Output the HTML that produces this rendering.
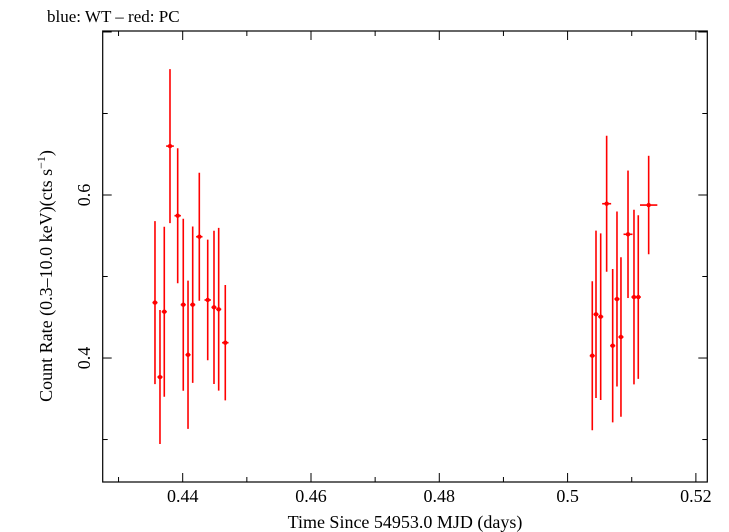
<!DOCTYPE html>
<html><head><meta charset="utf-8"><style>
html,body{margin:0;padding:0;background:#fff;}
svg{display:block;font-family:"Liberation Serif",serif;}
</style></head><body>
<svg id="chart" width="729" height="532" viewBox="0 0 729 532" xmlns="http://www.w3.org/2000/svg">
<text x="47" y="22" font-size="17" fill="#000">blue: WT – red: PC</text>
<rect x="102.7" y="31" width="604.6" height="451" fill="none" stroke="#000" stroke-width="1.2"/>
<g id="ticks"></g>
<g id="marks"></g>
<text x="405" y="528" font-size="18" text-anchor="middle">Time Since 54953.0 MJD (days)</text>
<text transform="translate(52,276) rotate(-90)" font-size="18" text-anchor="middle">Count Rate (0.3–10.0 keV)(cts s<tspan font-size="12" dy="-7">−1</tspan><tspan dy="7">)</tspan></text>
</svg>
<script>
const times = [0.43568,0.43646,0.43713,0.43802,0.43922,0.44009,0.44083,0.44156,0.44259,0.44390,0.44488,0.44561,0.44664,
  0.50385,0.50443,0.50516,0.50609,0.50703,0.50770,0.50832,0.50942,0.51035,0.51102,0.51264];
const timeErrs = [0.0004,0.0004,0.0004,0.0006,0.0005,0.0004,0.0004,0.0004,0.0005,0.0005,0.0004,0.0004,0.0005,
  0.0004,0.0004,0.0004,0.0007,0.0004,0.0004,0.0004,0.0007,0.0004,0.0004,0.00135];
const rates = [0.468,0.3767,0.4568,0.660,0.5746,0.4654,0.404,0.4654,0.5488,0.4712,0.4622,0.4598,0.4188,
  0.4028,0.4536,0.4507,0.5893,0.4151,0.4724,0.4258,0.5518,0.4748,0.4748,0.5877];
const rateErrs = [0.100,0.0822,0.1043,0.0945,0.0828,0.1055,0.091,0.0959,0.0785,0.074,0.094,0.0998,0.0708,
  0.0914,0.1027,0.1022,0.0834,0.0941,0.1074,0.0979,0.0782,0.1071,0.1004,0.0604];
const xTickLabels = ["0.44","0.46","0.48","0.5","0.52"];
const xTickValues = [0.44,0.46,0.48,0.50,0.52];
const yTickLabels = ["0.4","0.6"];
const yTickValues = [0.4,0.6];

const NS="http://www.w3.org/2000/svg";
const L=102.7,R=707.3,T=31,B=482;
const X0=0.42753,X1=0.52178,Y0=0.2479,Y1=0.8012;
function sx(t){return L+(t-X0)/(X1-X0)*(R-L);}
function sy(v){return B-(v-Y0)/(Y1-Y0)*(B-T);}
function mk(tag,attrs,parent){const e=document.createElementNS(NS,tag);for(const k in attrs)e.setAttribute(k,attrs[k]);parent.appendChild(e);return e;}
const tg=document.getElementById('ticks');
for(let i=43;i<=52;i++){
  const v=i/100, x=sx(v), major=(i%2===0), len=major?9:5;
  const a=mk('line',{x1:x,y1:B,x2:x,y2:B-len,stroke:'#000','stroke-width':1},tg);
  
  
  const b=mk('line',{x1:x,y1:T,x2:x,y2:T+len,stroke:'#000','stroke-width':1},tg);
  
  
}
xTickValues.forEach((v,i)=>{
  const t=mk('text',{x:sx(v),y:502,'font-size':18,'text-anchor':'middle'},tg);
  t.textContent=xTickLabels[i];
  
  
});
for(let i=3;i<=8;i++){
  const v=i/10, y=sy(v); if(y<T||y>B) continue;
  const major=(i%2===0), len=major?9:5;
  const a=mk('line',{x1:L,y1:y,x2:L+len,y2:y,stroke:'#000','stroke-width':1},tg);
  
  
  const b=mk('line',{x1:R,y1:y,x2:R-len,y2:y,stroke:'#000','stroke-width':1},tg);
  
  
}
yTickValues.forEach((v,i)=>{
  const y=sy(v);
  const t=mk('text',{transform:`translate(90,${y}) rotate(-90)`,'font-size':18,'text-anchor':'middle'},tg);
  t.textContent=yTickLabels[i];
  
  
});
const mg=document.getElementById('marks');
times.forEach((t,i)=>{
  const g=mk('g',{},mg);
  
  
  const x=sx(t), y=sy(rates[i]);
  mk('line',{x1:x,y1:sy(rates[i]+rateErrs[i]),x2:x,y2:sy(rates[i]-rateErrs[i]),stroke:'#f00','stroke-width':1.6},g);
  mk('line',{x1:sx(t-timeErrs[i]),y1:y,x2:sx(t+timeErrs[i]),y2:y,stroke:'#f00','stroke-width':1.6},g);
  mk('circle',{cx:x,cy:y,r:2.2,fill:'#f00'},g);
});
</script>
</body></html>
